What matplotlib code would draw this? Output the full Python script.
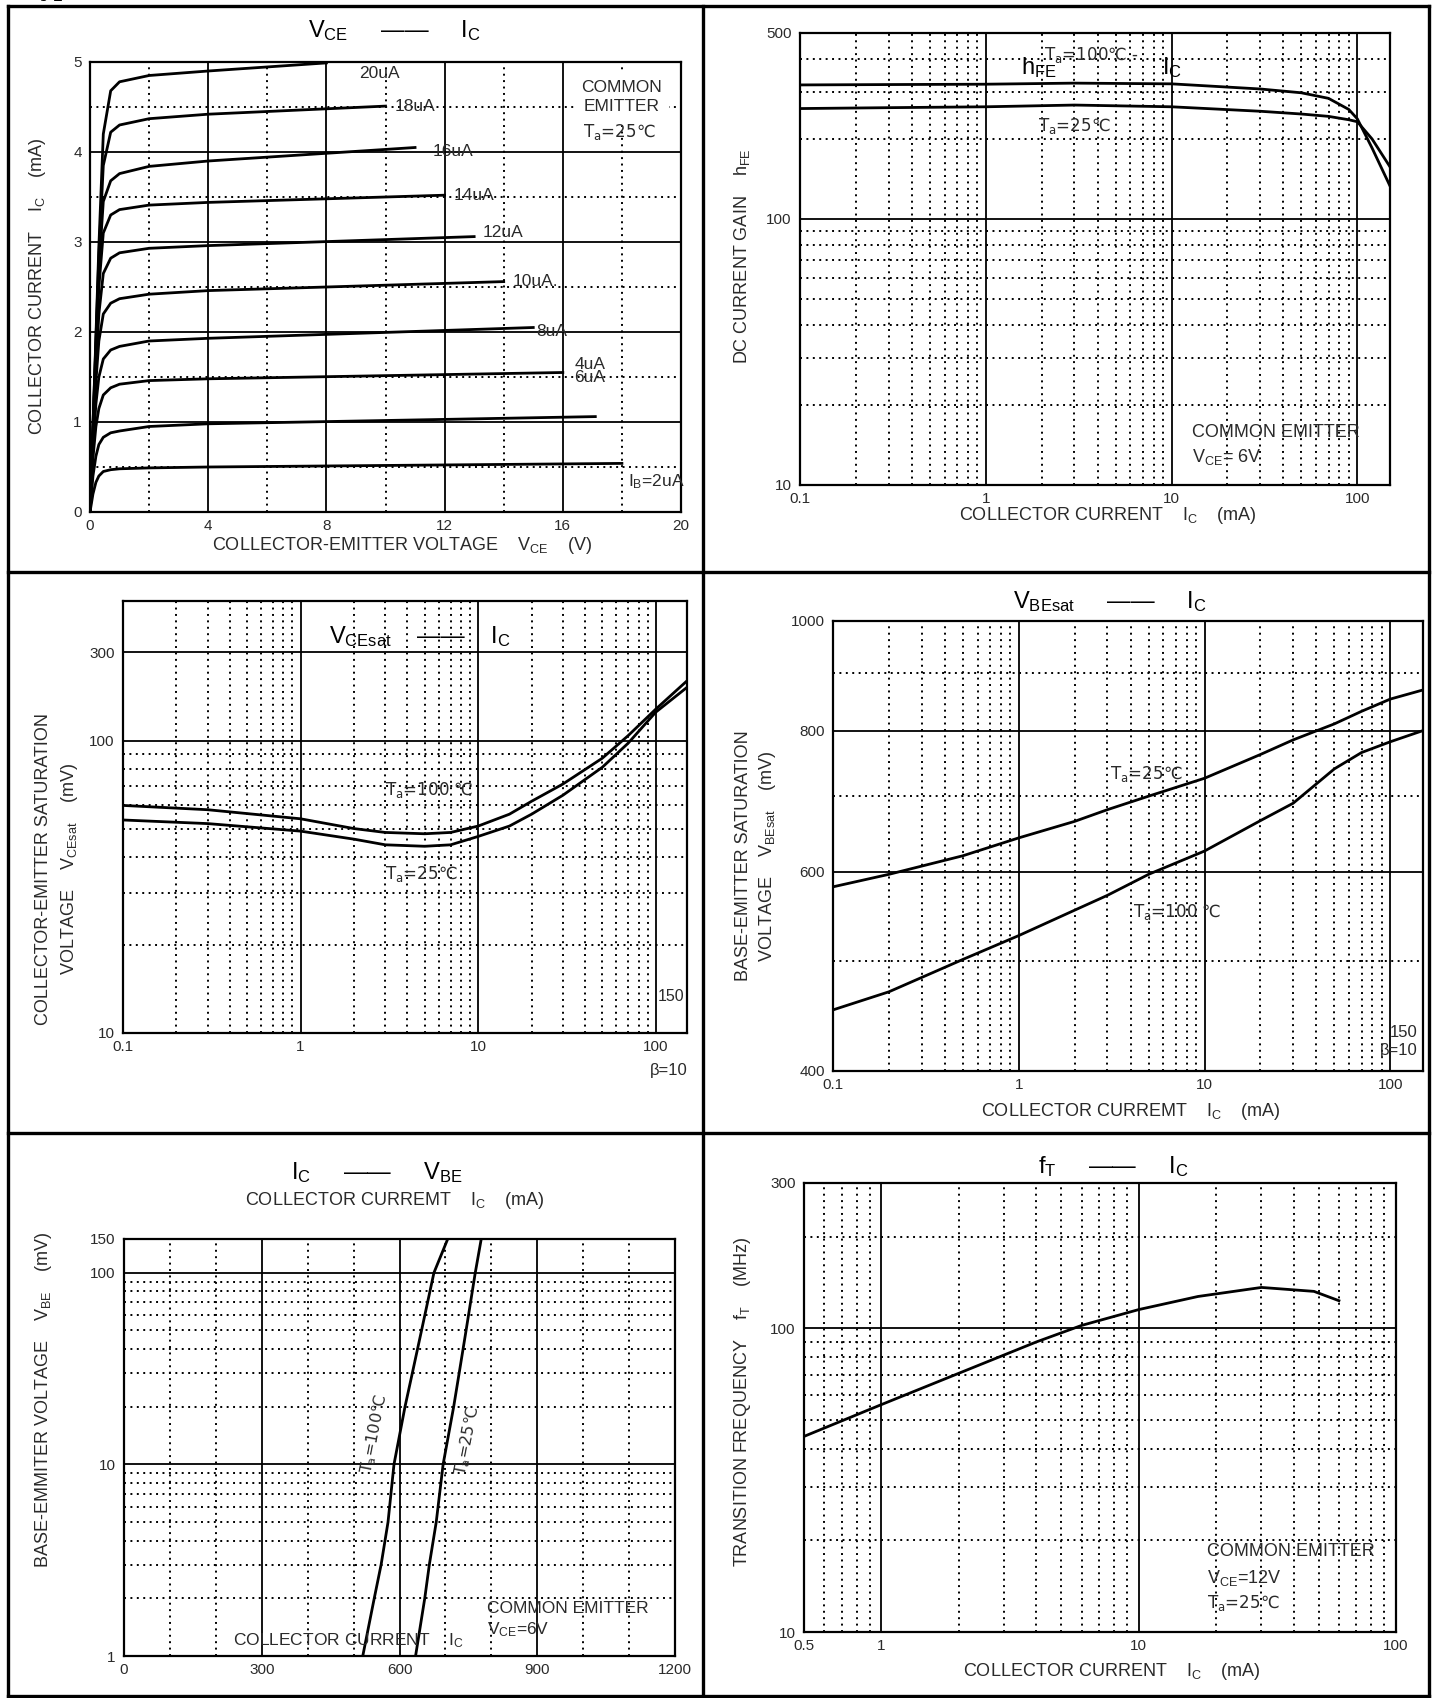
import matplotlib
matplotlib.use("Agg")
import matplotlib.pyplot as plt
from matplotlib.lines import Line2D
from matplotlib.ticker import FixedLocator, NullFormatter

# ---------------------------------------------------------------------------
# Data
# ---------------------------------------------------------------------------
# Vce - Ic output characteristics (Ta = 25C)
VCE_KNEE = [0, 0.1, 0.2, 0.3, 0.45, 0.7, 1.0, 2.0, 4.0]
VCE_END = [18.0, 17.1, 16.0, 15.0, 14.0, 13.0, 12.0, 11.0, 10.0, 8.0]
IC_2UA = [0, 0.20, 0.33, 0.40, 0.45, 0.47, 0.48, 0.49, 0.50, 0.54]
IC_4UA = [0, 0.40, 0.62, 0.75, 0.83, 0.88, 0.90, 0.95, 0.98, 1.06]
IC_6UA = [0, 0.60, 0.95, 1.15, 1.30, 1.38, 1.42, 1.46, 1.48, 1.55]
IC_8UA = [0, 0.70, 1.20, 1.50, 1.70, 1.80, 1.84, 1.90, 1.93, 2.05]
IC_10UA = [0, 0.80, 1.45, 1.90, 2.20, 2.32, 2.37, 2.42, 2.46, 2.56]
IC_12UA = [0, 0.85, 1.60, 2.20, 2.65, 2.82, 2.88, 2.93, 2.96, 3.06]
IC_14UA = [0, 0.90, 1.75, 2.50, 3.10, 3.30, 3.36, 3.41, 3.44, 3.52]
IC_16UA = [0, 0.90, 1.85, 2.70, 3.45, 3.68, 3.76, 3.84, 3.90, 4.05]
IC_18UA = [0, 0.95, 1.90, 2.85, 3.85, 4.22, 4.30, 4.37, 4.42, 4.51]
IC_20UA = [0, 0.95, 1.95, 2.95, 4.20, 4.68, 4.78, 4.85, 4.90, 4.99]

# hFE - Ic
IC_HFE = [0.1, 0.3, 1, 3, 10, 30, 50, 70, 90, 100, 120, 150]
HFE_T100 = [319, 320, 321, 324, 322, 308, 298, 284, 258, 238, 185, 133]
HFE_T25 = [260, 262, 264, 268, 264, 254, 248, 243, 236, 232, 200, 157]

# VCEsat - Ic
IC_CESAT = [0.1, 0.3, 1, 2, 3, 5, 7, 10, 15, 20, 30, 50, 70, 100, 150]
VCESAT_T100 = [60, 58, 54, 50, 48.5, 48, 48.5, 51, 56, 62, 71, 87, 104, 128, 160]
VCESAT_T25 = [53.5, 52, 49, 46, 44, 43.5, 44, 47, 51, 56, 65, 81, 98, 125, 152]

# VBEsat - Ic
IC_BESAT = [0.1, 0.2, 0.5, 1, 2, 3, 5, 10, 20, 30, 50, 70, 100, 150]
VBESAT_T25 = [582, 597, 620, 643, 665, 681, 700, 726, 762, 785, 811, 832, 853, 869]
VBESAT_T100 = [453, 470, 502, 527, 555, 572, 597, 626, 666, 690, 740, 765, 782, 800]

# Ic - VBE
IC_VBE = [1, 2, 3, 5, 10, 20, 30, 50, 100, 150]
VBE_T100 = [520, 545, 560, 575, 588, 612, 628, 648, 675, 705]
VBE_T25 = [635, 655, 665, 680, 695, 718, 730, 745, 765, 778]

# fT - Ic
IC_FT = [0.5, 1, 2, 4, 6, 10, 17, 30, 48, 60]
FT = [44, 56, 71, 90, 102, 115, 127, 136, 132, 123]

# ---------------------------------------------------------------------------
# Style
# ---------------------------------------------------------------------------
plt.rcParams["font.family"] = ["Liberation Sans", "DejaVu Sans"]
plt.rcParams["mathtext.fontset"] = "custom"
plt.rcParams["mathtext.rm"] = "Liberation Sans"
plt.rcParams["mathtext.it"] = "Liberation Sans"

W, H = 1437.0, 1698.0          # page in pixels
TXT = "#2a2a2a"
DOT = (0, (1.0, 2.3))
LW_CURVE = 2.0

fig = plt.figure(figsize=(W / 100, H / 100), dpi=100)
fig.patch.set_facecolor("white")


def P(x, y):
    return x / W, 1 - y / H


def make_axes(l, t, r, b):
    return fig.add_axes([l / W, 1 - b / H, (r - l) / W, (b - t) / H])


def ftext(x, y, s, **kw):
    kw.setdefault("color", TXT)
    kw.setdefault("fontsize", 13)
    kw.setdefault("ha", "center")
    kw.setdefault("va", "center")
    fig.text(*P(x, y), s, **kw)


def style(ax, xmaj, xlab, xmin, ymaj, ylab, ymin, xpad=5, ypad=6):
    ax.xaxis.set_major_locator(FixedLocator(xmaj))
    ax.set_xticklabels(xlab)
    ax.xaxis.set_minor_locator(FixedLocator(xmin))
    ax.xaxis.set_minor_formatter(NullFormatter())
    ax.yaxis.set_major_locator(FixedLocator(ymaj))
    ax.set_yticklabels(ylab)
    ax.yaxis.set_minor_locator(FixedLocator(ymin))
    ax.yaxis.set_minor_formatter(NullFormatter())
    ax.grid(which="major", color="black", lw=1.3, ls="-")
    ax.grid(which="minor", color="black", lw=1.4, ls=DOT)
    ax.set_axisbelow(True)
    ax.tick_params(which="both", length=0, labelsize=11, colors=TXT)
    ax.tick_params(axis="x", pad=xpad)
    ax.tick_params(axis="y", pad=ypad)
    for s in ax.spines.values():
        s.set_linewidth(1.6)


def ta(ax, x, y, t, size=12, **kw):
    # "T_a=..℃" labels: DejaVu carries the degree-Celsius sign
    kw.setdefault("ha", "left")
    kw.setdefault("va", "center")
    ax.text(x, y, r"$\mathregular{T_a}$=" + t, fontsize=size, color=TXT,
            family="DejaVu Sans", **kw)


LOG_MINOR_X = [0.2, 0.3, 0.4, 0.5, 0.6, 0.7, 0.8, 0.9,
               2, 3, 4, 5, 6, 7, 8, 9, 20, 30, 40, 50, 60, 70, 80, 90]
LOG_MINOR_Y = [20, 30, 40, 50, 60, 70, 80, 90]

# ---------------------------------------------------------------------------
# Table frame
# ---------------------------------------------------------------------------
frame = [((8, 6), (1429, 6)), ((8, 1696), (1429, 1696)),
         ((8, 6), (8, 1696)), ((1429, 6), (1429, 1696)),
         ((703, 6), (703, 1696)), ((8, 572), (1429, 572)),
         ((8, 1133), (1429, 1133))]
for (x0, y0), (x1, y1) in frame:
    a, b = P(x0, y0)
    c, d = P(x1, y1)
    fig.add_artist(Line2D([a, c], [b, d], color="black", lw=2.4))

# heading of the datasheet page, almost entirely above the crop
fig.text(25 / W, 1 + 4.0 / H, "Typical Characteristics", fontsize=17,
         fontweight="bold", family="DejaVu Serif", va="baseline", color="black")

# ---------------------------------------------------------------------------
# Panel 1 : Vce - Ic
# ---------------------------------------------------------------------------
ax1 = make_axes(90, 62, 681, 512)
curves = [IC_2UA, IC_4UA, IC_6UA, IC_8UA, IC_10UA, IC_12UA, IC_14UA,
          IC_16UA, IC_18UA, IC_20UA]
for ic, vend in zip(curves, VCE_END):
    ax1.plot(VCE_KNEE + [vend], ic, color="black", lw=LW_CURVE,
             solid_joinstyle="round")
ax1.set_xlim(0, 20)
ax1.set_ylim(0, 5)
style(ax1, [0, 4, 8, 12, 16, 20], ["0", "4", "8", "12", "16", "20"],
      [2, 6, 10, 14, 18], [0, 1, 2, 3, 4, 5], ["0", "1", "2", "3", "4", "5"],
      [0.5, 1.5, 2.5, 3.5, 4.5])
lab_pos = {"20uA": (9.1, 4.87), "18uA": (10.3, 4.5), "16uA": (11.6, 4.0),
           "14uA": (12.3, 3.52), "12uA": (13.3, 3.1), "10uA.": (14.3, 2.56),
           "8uA": (15.1, 2.01), "4uA": (16.4, 1.64), "6uA": (16.4, 1.49)}
for lab, (x, y) in lab_pos.items():
    ax1.text(x, y, lab, fontsize=12.5, color=TXT, ha="left", va="center")
ax1.text(18.2, 0.34, r"$\mathregular{I_B}$=2uA", fontsize=12.5, color=TXT,
         ha="left", va="center")
ax1.text(18.0, 4.61, "COMMON\nEMITTER", fontsize=12.5, color=TXT, ha="center",
         va="center", linespacing=1.35,
         bbox=dict(facecolor="white", edgecolor="none", pad=5))
ta(ax1, 16.7, 4.22, "25℃")

ftext(394, 37, r"$\mathregular{V_{CE}}$     ——     $\mathregular{I_C}$",
      fontsize=17, color="black", va="baseline")
ftext(402, 546, r"COLLECTOR-EMITTER VOLTAGE    $\mathregular{V_{CE}}$    (V)")
ftext(38, 286, r"COLLECTOR CURRENT    $\mathregular{I_C}$    (mA)", rotation=90)

# ---------------------------------------------------------------------------
# Panel 2 : hFE - Ic
# ---------------------------------------------------------------------------
ax2 = make_axes(800, 33, 1390, 485)
ax2.plot(IC_HFE, HFE_T100, color="black", lw=LW_CURVE)
ax2.plot(IC_HFE, HFE_T25, color="black", lw=LW_CURVE)
ax2.set_xscale("log")
ax2.set_yscale("log")
ax2.set_xlim(0.1, 150)
ax2.set_ylim(10, 500)
style(ax2, [0.1, 1, 10, 100], ["0.1", "1", "10", "100"], LOG_MINOR_X,
      [10, 100, 500], ["10", "100", "500"], LOG_MINOR_Y + [200, 300, 400])
ax2.text(1.55, 372, r"$\mathregular{h_{FE}}$", fontsize=17, color="black",
         ha="left", va="center")
ta(ax2, 2.05, 412, "100℃ -")
ax2.text(8.9, 370, r"$\mathregular{I_C}$", fontsize=17, color="black",
         ha="left", va="center")
ta(ax2, 1.9, 224, "25℃")
ax2.text(12.9, 15.7, "COMMON EMITTER", fontsize=13, color=TXT, ha="left",
         va="center")
ax2.text(12.9, 12.7, r"$\mathregular{V_{CE}}$= 6V", fontsize=13, color=TXT,
         ha="left", va="center")
ftext(1108, 516, r"COLLECTOR CURRENT    $\mathregular{I_C}$    (mA)")
ftext(742, 256, r"DC CURRENT GAIN    $\mathregular{h_{FE}}$", rotation=90)

# ---------------------------------------------------------------------------
# Panel 3 : VCEsat - Ic
# ---------------------------------------------------------------------------
ax3 = make_axes(123, 601, 687, 1033)
ax3.plot(IC_CESAT, VCESAT_T100, color="black", lw=LW_CURVE)
ax3.plot(IC_CESAT, VCESAT_T25, color="black", lw=LW_CURVE)
ax3.set_xscale("log")
ax3.set_yscale("log")
ax3.set_xlim(0.1, 150)
ax3.set_ylim(10, 300)
style(ax3, [0.1, 1, 10, 100], ["0.1", "1", "10", "100"], LOG_MINOR_X,
      [10, 100, 200], ["10", "100", "300"], LOG_MINOR_Y)
ax3.text(1.45, 226, r"$\mathregular{V_{CEsat}}$    ——    $\mathregular{I_C}$",
         fontsize=17, color="black", ha="left", va="center")
ta(ax3, 3.0, 68, "100 ℃")
ta(ax3, 3.0, 35, "25℃")
ax3.text(103, 13.3, "150", fontsize=11.5, color=TXT, ha="left", va="center")
ftext(669, 1071, "β=10", fontsize=12)
ftext(44, 869, "COLLECTOR-EMITTER SATURATION", rotation=90)
ftext(69, 869, r"VOLTAGE    $\mathregular{V_{CEsat}}$    (mV)", rotation=90)

# ---------------------------------------------------------------------------
# Panel 4 : VBEsat - Ic
# ---------------------------------------------------------------------------
ax4 = make_axes(833, 621, 1423, 1071)
ax4.plot(IC_BESAT, VBESAT_T25, color="black", lw=LW_CURVE)
ax4.plot(IC_BESAT, VBESAT_T100, color="black", lw=LW_CURVE)
ax4.set_xscale("log")
ax4.set_yscale("log")
ax4.set_xlim(0.1, 150)
ax4.set_ylim(400, 1000)
style(ax4, [0.1, 1, 10, 100], ["0.1", "1", "10", "100"], LOG_MINOR_X,
      [400, 600, 800, 1000], ["400", "600", "800", "1000"], [500, 700, 900])
ta(ax4, 3.1, 732, "25℃")
ta(ax4, 4.1, 553, "100 ℃")
ax4.text(118, 433, "150", fontsize=12, color=TXT, ha="center", va="center")
ax4.text(111, 417, "β=10", fontsize=12, color=TXT, ha="center", va="center")
ftext(1110, 608, r"$\mathregular{V_{BEsat}}$     ——     $\mathregular{I_C}$",
      fontsize=17, color="black", va="baseline")
ftext(1131, 1112, r"COLLECTOR CURREMT    $\mathregular{I_C}$    (mA)")
ftext(743, 856, "BASE-EMITTER SATURATION", rotation=90)
ftext(767, 856, r"VOLTAGE    $\mathregular{V_{BEsat}}$    (mV)", rotation=90)

# ---------------------------------------------------------------------------
# Panel 5 : Ic - VBE
# ---------------------------------------------------------------------------
ax5 = make_axes(124, 1239, 675, 1656)
ax5.plot(VBE_T100, IC_VBE, color="black", lw=LW_CURVE)
ax5.plot(VBE_T25, IC_VBE, color="black", lw=LW_CURVE)
ax5.set_yscale("log")
ax5.set_xlim(0, 1200)
ax5.set_ylim(1, 150)
style(ax5, [0, 300, 600, 900, 1200], ["0", "300", "600", "900", "1200"],
      [100, 200, 400, 500, 700, 800, 1000, 1100],
      [1, 10, 100, 150], ["1", "10", "100", "150"],
      [2, 3, 4, 5, 6, 7, 8, 9] + LOG_MINOR_Y)
ta(ax5, 545, 14.5, "100℃", size=11.5, ha="center", rotation=79)
ta(ax5, 748, 13.2, "25℃", size=11.5, ha="center", rotation=79)
ax5.text(238, 1.2, r"COLLECTOR CURRENT    $\mathregular{I_C}$", fontsize=12.5,
         color=TXT, ha="left", va="center")
ax5.text(790, 1.78, "COMMON EMITTER", fontsize=12.5, color=TXT, ha="left",
         va="center")
ax5.text(790, 1.37, r"$\mathregular{V_{CE}}$=6V", fontsize=12.5, color=TXT,
         ha="left", va="center")
ftext(377, 1179, r"$\mathregular{I_C}$     ——     $\mathregular{V_{BE}}$",
      fontsize=17, color="black", va="baseline")
ftext(395, 1205, r"COLLECTOR CURREMT    $\mathregular{I_C}$    (mA)",
      va="baseline")
ftext(44, 1400, r"BASE-EMMITER VOLTAGE    $\mathregular{V_{BE}}$    (mV)",
      rotation=90)

# ---------------------------------------------------------------------------
# Panel 6 : fT - Ic
# ---------------------------------------------------------------------------
ax6 = make_axes(804, 1183, 1396, 1632)
ax6.plot(IC_FT, FT, color="black", lw=LW_CURVE)
ax6.set_xscale("log")
ax6.set_yscale("log")
ax6.set_xlim(0.5, 100)
ax6.set_ylim(10, 300)
style(ax6, [0.5, 1, 10, 100], ["0.5", "1", "10", "100"],
      [0.6, 0.7, 0.8, 0.9] + LOG_MINOR_X[8:],
      [10, 100, 300], ["10", "100", "300"], LOG_MINOR_Y + [200])
ax6.text(18.4, 18.4, "COMMON EMITTER", fontsize=13, color=TXT, ha="left",
         va="center")
ax6.text(18.4, 15.1, r"$\mathregular{V_{CE}}$=12V", fontsize=13, color=TXT,
         ha="left", va="center")
ta(ax6, 18.4, 12.5, "25℃")
ftext(1113, 1173, r"$\mathregular{f_T}$     ——     $\mathregular{I_C}$",
      fontsize=17, color="black", va="baseline")
ftext(1112, 1671, r"COLLECTOR CURRENT    $\mathregular{I_C}$    (mA)")
ftext(742, 1402, r"TRANSITION FREQUENCY    $\mathregular{f_T}$    (MHz)",
      rotation=90)

fig.savefig("out.png", dpi=100, facecolor="white")
